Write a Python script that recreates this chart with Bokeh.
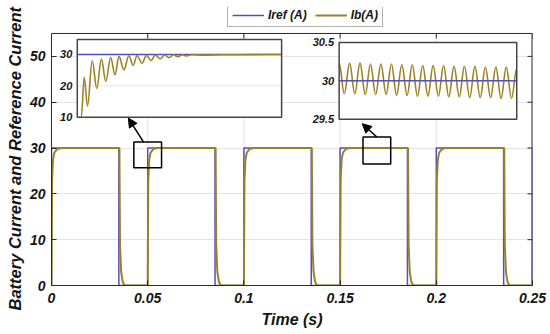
import math
from bokeh.plotting import figure
from bokeh.models import (Range1d, FixedTicker, Legend, LegendItem, Title,
                          Arrow, NormalHead, ColumnDataSource)
from bokeh.core.properties import value
from bokeh.embed import file_html
from bokeh.resources import INLINE

# ---------------- data ----------------
xticks = [0, 0.05, 0.10, 0.15, 0.20, 0.25]
xtick_labels = ["0", "0.05", "0.1", "0.15", "0.2", "0.25"]
yticks = [0, 10, 20, 30, 40, 50]
x_lim = [0, 0.25]
y_lim = [0, 55]

# reference current (square wave)
iref_t = [0.0, 0.0, 0.035, 0.035, 0.05, 0.05, 0.085, 0.085, 0.10, 0.10, 0.135, 0.135,
          0.15, 0.15, 0.185, 0.185, 0.20, 0.20, 0.235, 0.235, 0.25, 0.25]
iref_v = [0, 30, 30, 0, 0, 30, 30, 0, 0, 30, 30, 0,
          0, 30, 30, 0, 0, 30, 30, 0, 0, 30]

# battery current
ib_t = [0.0000, 0.0003, 0.0008, 0.0015, 0.0030, 0.0050, 0.0353, 0.0356, 0.0362, 0.0370, 0.0380,
        0.0500, 0.0503, 0.0508, 0.0515, 0.0530, 0.0550, 0.0853, 0.0856, 0.0862, 0.0870, 0.0880,
        0.1000, 0.1003, 0.1008, 0.1015, 0.1030, 0.1050, 0.1353, 0.1356, 0.1362, 0.1370, 0.1380,
        0.1500, 0.1503, 0.1508, 0.1515, 0.1530, 0.1550, 0.1853, 0.1856, 0.1862, 0.1870, 0.1880,
        0.2000, 0.2003, 0.2008, 0.2015, 0.2030, 0.2050, 0.2353, 0.2356, 0.2362, 0.2370, 0.2380,
        0.2500]
ib_v = [0, 23, 27.5, 29, 29.8, 30, 30, 9, 3, 0.8, 0,
        0, 23, 27.5, 29, 29.8, 30, 30, 9, 3, 0.8, 0,
        0, 23, 27.5, 29, 29.8, 30, 30, 9, 3, 0.8, 0,
        0, 23, 27.5, 29, 29.8, 30, 30, 9, 3, 0.8, 0,
        0, 23, 27.5, 29, 29.8, 30, 30, 9, 3, 0.8, 0,
        0]

# inset 1: start-up transient (peaks / troughs)
in1_x = [0.050, 0.052]
in1_y = [10, 34.8]
in1_ticks = [10, 20, 30]
in1_labels = ["10", "20", "30"]
in1_t = [0.050039, 0.050068, 0.050100, 0.050146, 0.050191, 0.050236, 0.050279, 0.050327,
         0.050369, 0.050408, 0.050456, 0.050505, 0.050547, 0.050585, 0.050634, 0.050677,
         0.050721, 0.050764, 0.050813, 0.050854, 0.050898, 0.050942, 0.050985, 0.051029,
         0.051073, 0.051117, 0.051233, 0.051427, 0.051718, 0.052000]
in1_v = [10.0, 22.7, 13.5, 28.0, 19.1, 28.6, 21.4, 29.0,
         23.5, 29.4, 25.1, 29.6, 26.5, 29.6, 27.2, 29.7,
         28.1, 29.8, 28.6, 29.85, 29.0, 29.9, 29.3, 29.9,
         29.5, 29.95, 29.8, 29.9, 29.95, 30.0]
in1_ref = [30, 30]

# inset 2: steady-state ripple (peaks / troughs)
in2_x = [0.1620, 0.1764]
in2_y = [29.5, 30.5]
in2_ticks = [29.5, 30, 30.5]
in2_labels = ["29.5", "30", "30.5"]
in2_t = [0.16200, 0.16242, 0.16285, 0.16327, 0.16369, 0.16412, 0.16454, 0.16496, 0.16539,
         0.16581, 0.16624, 0.16666, 0.16708, 0.16751, 0.16793, 0.16835, 0.16878, 0.16920,
         0.16962, 0.17005, 0.17047, 0.17089, 0.17132, 0.17174, 0.17216, 0.17259, 0.17301,
         0.17344, 0.17386, 0.17428, 0.17471, 0.17513, 0.17555, 0.17598, 0.17640]
in2_v = [30.23, 29.83, 30.23, 29.83, 30.23, 29.82, 30.22, 29.82, 30.22,
         29.82, 30.22, 29.81, 30.21, 29.81, 30.21, 29.80, 30.20, 29.80,
         30.20, 29.80, 30.20, 29.79, 30.19, 29.79, 30.19, 29.78, 30.19,
         29.78, 30.18, 29.78, 30.18, 29.77, 30.18, 29.77, 30.16]
in2_ref = [30, 30]

# zoomed regions on the main plot [x0, x1, y0, y1]
zoom1 = [0.0428, 0.0572, 25.7, 31.3]
zoom2 = [0.1619, 0.1763, 26.5, 32.4]

# ---------------- layout / style ----------------
FONT = "Liberation Sans"
C_REF = "#5050bf"
C_IB = "#9c8226"
C_AX = "#2a2a2a"
C_GRID = "#e4e4e4"
C_TXT = "#151515"

# the drawing area reaches up to the legend; the axes box itself stops at y_lim[1]
Y_VIEW_TOP = 60.67
in1_target = ([0.0134, 0.1196], [36.74, 53.70])
in2_target = ([0.1495, 0.2418], [36.30, 53.04])

p = figure(width=550, height=334, x_range=Range1d(*x_lim), y_range=Range1d(0, Y_VIEW_TOP),
           output_backend="svg", toolbar_location=None,
           min_border_left=47, min_border_right=18, min_border_top=7, min_border_bottom=49)
p.background_fill_color = "white"
p.border_fill_color = "white"
p.outline_line_color = None

p.xaxis.ticker = FixedTicker(ticks=xticks)
p.xaxis.major_label_overrides = {t: l for t, l in zip(xticks, xtick_labels)}
p.yaxis.ticker = FixedTicker(ticks=yticks)
p.yaxis.bounds = tuple(y_lim)
p.ygrid.ticker = FixedTicker(ticks=yticks)
p.ygrid.grid_line_color = C_GRID
p.xgrid.visible = False

for ax in (p.xaxis[0], p.yaxis[0]):
    ax.major_tick_in = 5
    ax.major_tick_out = 0
    ax.minor_tick_line_color = None
    ax.axis_line_color = C_AX
    ax.major_tick_line_color = C_AX
    ax.major_label_text_font = FONT
    ax.major_label_text_font_style = "bold italic"
    ax.major_label_text_font_size = "14px"
    ax.major_label_text_color = C_TXT
    ax.axis_label_text_font = FONT
    ax.axis_label_text_font_style = "bold italic"
    ax.axis_label_text_font_size = "16px"
    ax.axis_label_text_color = C_TXT

p.xaxis.axis_label = "Time (s)"
p.xaxis.major_label_standoff = 7
p.xaxis.axis_label_standoff = 5
p.yaxis.major_label_standoff = 6

# y label as a side title, so that it is centred on the axes box and not on the view
p.add_layout(Title(text="Battery Current and Reference Current", align="left", offset=-25,
                   standoff=6, text_font=FONT, text_font_style="bold italic",
                   text_font_size="16.5px", text_color=C_TXT), "left")

# vertical grid lines inside the axes box
p.segment(x0=xticks, x1=xticks, y0=[y_lim[0]] * len(xticks), y1=[y_lim[1]] * len(xticks),
          line_color=C_GRID, line_width=1)
# top and right edges of the axes box, with inward ticks
p.segment(x0=[x_lim[0], x_lim[1]], x1=[x_lim[1], x_lim[1]],
          y0=[y_lim[1], y_lim[0]], y1=[y_lim[1], y_lim[1]],
          line_color=C_AX, line_width=[1, 2])
p.ray(x=xticks, y=[y_lim[1]] * len(xticks), length=5, length_units="screen",
      angle=-math.pi / 2, line_color=C_AX, line_width=1)
p.ray(x=[x_lim[1]] * len(yticks), y=yticks, length=5, length_units="screen",
      angle=math.pi, line_color=C_AX, line_width=1)

# main curves
r_ref = p.line(iref_t, iref_v, line_color=C_REF, line_width=1.5)
r_ib = p.line(ib_t, ib_v, line_color=C_IB, line_width=2)


def smooth(ins, t, v, color, width):
    """draw a curve through the extrema with horizontal tangents (sine-like)"""
    x0 = t[:-1]
    x1 = t[1:]
    y0 = v[:-1]
    y1 = v[1:]
    cx0 = [a + 0.363 * (b - a) for a, b in zip(x0, x1)]
    cx1 = [b - 0.363 * (b - a) for a, b in zip(x0, x1)]
    ins.bezier(x0=x0, y0=y0, x1=x1, y1=y1, cx0=cx0, cy0=y0, cx1=cx1, cy1=y1,
               line_color=color, line_width=width)


def inset(xr, yr, target, ticks, labels):
    ins = p.subplot(x_source=Range1d(*xr), y_source=Range1d(*yr),
                    x_target=Range1d(*target[0]), y_target=Range1d(*target[1]))
    ins.quad(left=[xr[0]], right=[xr[1]], bottom=[yr[0]], top=[yr[1]],
             fill_color="white", line_color=None)
    inner = [t for t in ticks if yr[0] < t < yr[1]]
    ins.segment(x0=[xr[0]] * len(inner), x1=[xr[1]] * len(inner), y0=inner, y1=inner,
                line_color=C_GRID, line_width=1)
    ins.text(x=[xr[0]] * len(ticks), y=ticks, text=labels, x_offset=-5,
             text_align="right", text_baseline="middle", text_font=value(FONT),
             text_font_style="bold italic", text_font_size="11px", text_color=C_TXT)
    return ins


ins1 = inset(in1_x, in1_y, in1_target, in1_ticks, in1_labels)
ins1.line(in1_x, in1_ref, line_color=C_REF, line_width=1.5)
smooth(ins1, in1_t, in1_v, C_IB, 1.6)
ins1.quad(left=[in1_x[0]], right=[in1_x[1]], bottom=[in1_y[0]], top=[in1_y[1]],
          fill_color=None, line_color="#444444", line_width=1.5)

ins2 = inset(in2_x, in2_y, in2_target, in2_ticks, in2_labels)
smooth(ins2, in2_t, in2_v, C_IB, 1.6)
ins2.line(in2_x, in2_ref, line_color=C_REF, line_width=1.5)
ins2.quad(left=[in2_x[0]], right=[in2_x[1]], bottom=[in2_y[0]], top=[in2_y[1]],
          fill_color=None, line_color="#444444", line_width=1.5)

# zoom boxes
p.quad(left=[zoom1[0], zoom2[0]], right=[zoom1[1], zoom2[1]],
       bottom=[zoom1[2], zoom2[2]], top=[zoom1[3], zoom2[3]],
       fill_color=None, line_color="black", line_width=1.5)

# arrows: from zoom box top to the inset bottom
arr = ColumnDataSource(dict(
    xs=[zoom1[0] + 0.35 * (zoom1[1] - zoom1[0]), zoom2[0] + 0.5 * (zoom2[1] - zoom2[0])],
    ys=[zoom1[3], zoom2[3]],
    xe=[in1_target[0][0] + 0.25 * (in1_target[0][1] - in1_target[0][0]),
        in2_target[0][0] + 0.13 * (in2_target[0][1] - in2_target[0][0])],
    ye=[in1_target[1][0] - 0.2, in2_target[1][0] - 1.0],
))
p.add_layout(Arrow(end=NormalHead(size=9, fill_color="black", line_color="black"),
                   x_start="xs", y_start="ys", x_end="xe", y_end="ye", source=arr,
                   line_color="black", line_width=1.5))

legend = Legend(items=[LegendItem(label="Iref (A)", renderers=[r_ref]),
                       LegendItem(label="Ib(A)", renderers=[r_ib])],
                location=(176, 258), orientation="horizontal",
                glyph_width=32, glyph_height=12, label_standoff=4, spacing=8,
                padding=4, margin=0, label_height=12,
                label_text_font=FONT, label_text_font_style="bold italic",
                label_text_font_size="12px", label_text_color=C_TXT,
                border_line_color="#666666", border_line_width=1,
                background_fill_color="white", background_fill_alpha=1)
p.add_layout(legend)

open("out.html", "w").write(file_html(p, INLINE))
